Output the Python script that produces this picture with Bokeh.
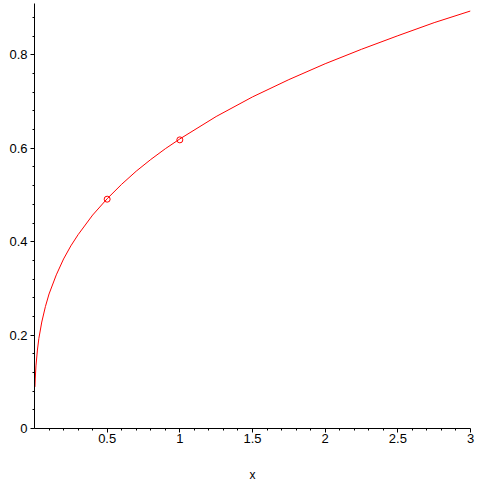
from bokeh.plotting import figure
from bokeh.models import Range1d, FixedTicker, NumeralTickFormatter
from bokeh.embed import file_html
from bokeh.resources import INLINE

# Curve values
curve_x = [0.003, 0.005, 0.01, 0.02, 0.03, 0.05, 0.075, 0.1, 0.15, 0.2, 0.25, 0.3,
           0.4, 0.5, 0.6, 0.7, 0.8, 0.9, 1.0, 1.25, 1.5, 1.75, 2.0, 2.25, 2.5, 2.75, 3.0]
curve_y = [0.089, 0.106, 0.134, 0.168, 0.193, 0.228, 0.261, 0.288, 0.329, 0.363, 0.391, 0.415,
           0.457, 0.492, 0.523, 0.551, 0.576, 0.599, 0.620, 0.668, 0.710, 0.747, 0.781, 0.812,
           0.841, 0.869, 0.894]

# Marked points
pts_x = [0.5, 1.0]
pts_y = [0.491, 0.618]

# Ticks
x_major = [0.5, 1.0, 1.5, 2.0, 2.5, 3.0]
x_minor = [0.1, 0.2, 0.3, 0.4, 0.6, 0.7, 0.8, 0.9, 1.1, 1.2, 1.3, 1.4, 1.6, 1.7, 1.8, 1.9,
           2.1, 2.2, 2.3, 2.4, 2.6, 2.7, 2.8, 2.9]
y_major = [0.0, 0.2, 0.4, 0.6, 0.8]
y_minor = [0.04, 0.08, 0.12, 0.16, 0.24, 0.28, 0.32, 0.36, 0.44, 0.48, 0.52, 0.56,
           0.64, 0.68, 0.72, 0.76, 0.84, 0.88]

FONT = "Liberation Sans"

p = figure(width=484, height=484, output_backend="svg", toolbar_location=None,
           x_range=Range1d(0, 3), y_range=Range1d(0, 0.91),
           min_border_left=34, min_border_right=14, min_border_top=3, min_border_bottom=53)
p.outline_line_color = None
p.xgrid.visible = False
p.ygrid.visible = False
p.background_fill_color = "white"
p.border_fill_color = "white"

p.line(curve_x, curve_y, line_color="#ff0000", line_width=1)
p.scatter(pts_x, pts_y, marker="circle", size=6, line_color="#ff0000",
          fill_color=None, line_width=1)

for ax in (p.xaxis[0], p.yaxis[0]):
    ax.axis_line_color = "black"
    ax.axis_line_width = 1
    ax.major_tick_line_color = "black"
    ax.minor_tick_line_color = "black"
    ax.major_tick_in = 0
    ax.major_tick_out = 4
    ax.minor_tick_in = 0
    ax.minor_tick_out = 2
    ax.major_label_text_font = FONT
    ax.major_label_text_font_size = "13px"
    ax.major_label_text_color = "black"
    ax.formatter = NumeralTickFormatter(format="0.[0]")

p.xaxis[0].ticker = FixedTicker(ticks=x_major, minor_ticks=x_minor)
p.yaxis[0].ticker = FixedTicker(ticks=y_major, minor_ticks=y_minor)
p.xaxis[0].major_label_standoff = 1
p.yaxis[0].major_label_standoff = 3

p.xaxis[0].axis_label = "x"
p.xaxis[0].axis_label_text_font = FONT
p.xaxis[0].axis_label_text_font_size = "12px"
p.xaxis[0].axis_label_text_font_style = "normal"
p.xaxis[0].axis_label_text_color = "black"
p.xaxis[0].axis_label_standoff = 22

open("out.html", "w").write(file_html(p, INLINE))
